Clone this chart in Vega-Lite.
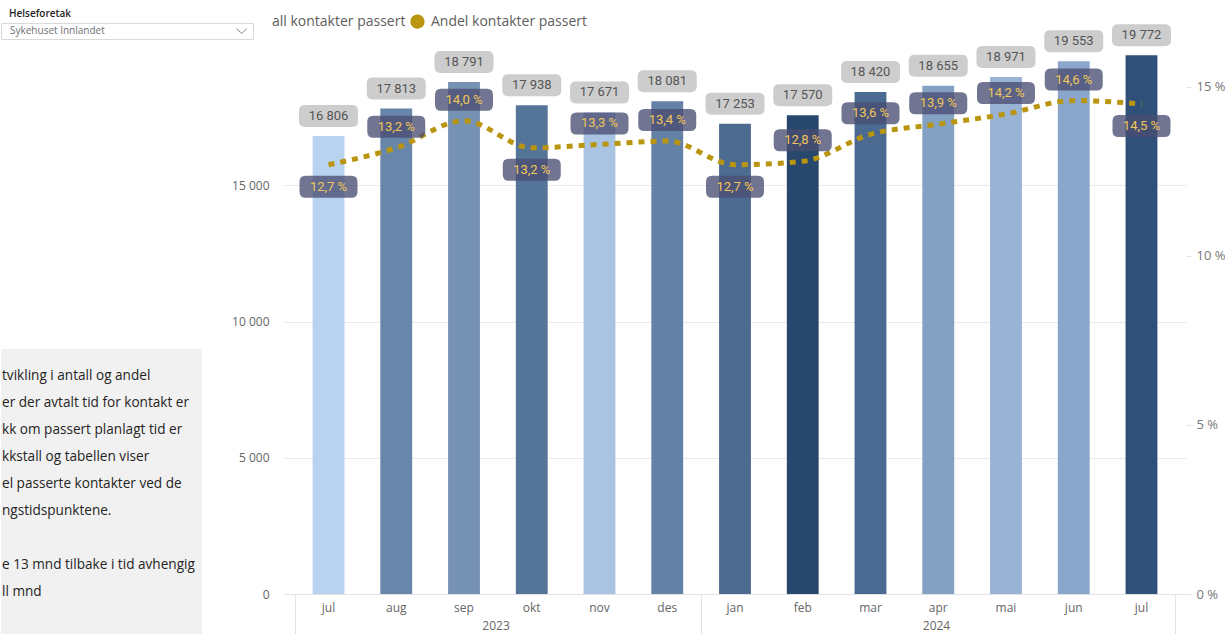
{
  "$schema": "https://vega.github.io/schema/vega-lite/v6.json",
  "background": "white",
  "padding": {"left": 0, "top": 8, "right": 0, "bottom": 0},
  "bounds": "flush",
  "align": "each",
  "columns": 2,
  "spacing": {"row": 10, "column": 31},
  "resolve": {"legend": {"color": "independent"}},
  "config": {
    "view": {"stroke": null},
    "font": "Open Sans",
    "locale": {"number": {"decimal": ",", "thousands": " ", "grouping": [3], "currency": ["", " kr"], "percent": " %"}}
  },
  "concat": [
    {
      "width": 252,
      "height": 16,
      "title": {"text": "Helseforetak", "anchor": "start", "fontSize": 10, "fontWeight": 600, "color": "#252423", "offset": 4, "dx": 8, "font": "Open Sans"},
      "view": {"stroke": "#D9D9D9", "fill": "white"},
      "layer": [
        {
          "data": {"values": [{"t": "Sykehuset Innlandet"}]},
          "mark": {"type": "text", "align": "left", "baseline": "middle", "dx": 9, "font": "Open Sans", "fontSize": 10, "color": "#707070"},
          "encoding": {
            "x": {"datum": 0, "type": "quantitative", "scale": {"domain": [0, 1]}, "axis": null},
            "text": {"field": "t"}
          }
        },
        {
          "data": {"values": [{"t": "chevron"}]},
          "mark": {"type": "point", "shape": "M-1,-0.45L0,0.45L1,-0.45", "size": 110, "filled": false, "stroke": "#888888", "strokeWidth": 1, "opacity": 1},
          "encoding": {
            "x": {"datum": 0.955, "type": "quantitative", "axis": null}
          }
        }
      ]
    },
    {
      "width": 1,
      "height": 1,
      "data": {"values": [{"t": ""}]},
      "mark": {"type": "text"},
      "encoding": {"text": {"field": "t"}}
    },
    {
      "width": 201,
      "height": 586,
      "layer": [
        {
          "data": {"values": [{"box": "tekstboks"}]},
          "mark": {"type": "rect", "color": "#F1F1F1"},
          "encoding": {
            "x": {"datum": 0, "type": "quantitative", "scale": {"domain": [0, 1]}, "axis": null},
            "x2": {"datum": 1},
            "y": {"datum": -1, "type": "quantitative", "scale": {"domain": [-12.111, 9.593], "reverse": true, "nice": false, "zero": false}, "axis": null},
            "y2": {"datum": 9.593}
          }
        },
        {
          "data": {"values": [
            {"i": 0, "t": "tvikling i antall og andel"},
            {"i": 1, "t": "er der avtalt tid for kontakt er"},
            {"i": 2, "t": "kk om passert planlagt tid er"},
            {"i": 3, "t": "kkstall og tabellen viser"},
            {"i": 4, "t": "el passerte kontakter ved de"},
            {"i": 5, "t": "ngstidspunktene."},
            {"i": 7, "t": "e 13 mnd tilbake i tid avhengig"},
            {"i": 8, "t": "ll mnd"}
          ]},
          "mark": {"type": "text", "align": "left", "baseline": "middle", "dx": 1, "font": "Open Sans", "fontSize": 13.6, "color": "#252423"},
          "encoding": {
            "x": {"datum": 0, "type": "quantitative", "axis": null},
            "y": {"field": "i", "type": "quantitative", "axis": null},
            "text": {"field": "t"}
          }
        }
      ]
    },
    {
      "width": 902,
      "height": 545,
      "data": {"values": [
        {"key": "2023-07", "antall": 16806, "andel": 0.127},
        {"key": "2023-08", "antall": 17813, "andel": 0.132},
        {"key": "2023-09", "antall": 18791, "andel": 0.140},
        {"key": "2023-10", "antall": 17938, "andel": 0.132},
        {"key": "2023-11", "antall": 17671, "andel": 0.133},
        {"key": "2023-12", "antall": 18081, "andel": 0.134},
        {"key": "2024-01", "antall": 17253, "andel": 0.127},
        {"key": "2024-02", "antall": 17570, "andel": 0.128},
        {"key": "2024-03", "antall": 18420, "andel": 0.136},
        {"key": "2024-04", "antall": 18655, "andel": 0.139},
        {"key": "2024-05", "antall": 18971, "andel": 0.142},
        {"key": "2024-06", "antall": 19553, "andel": 0.146},
        {"key": "2024-07", "antall": 19772, "andel": 0.145}
      ]},
      "resolve": {"scale": {"y": "independent"}, "axis": {"x": "independent", "y": "independent"}},
      "layer": [
        {
          "mark": {"type": "bar"},
          "encoding": {
            "x": {"field": "key", "type": "ordinal", "scale": {"paddingInner": 0.53, "paddingOuter": 0.422},
              "axis": {"orient": "bottom", "title": null, "labelExpr": "['jan','feb','mar','apr','mai','jun','jul','aug','sep','okt','nov','des'][toNumber(slice(datum.value,5))-1]", "labelAngle": 0, "ticks": false, "tickSize": 0, "domain": true, "domainColor": "#E3E3E3", "labelPadding": 8, "labelColor": "#666666", "labelFontSize": 12, "grid": false}},
            "y": {"field": "antall", "type": "quantitative", "scale": {"domain": [0, 20000], "nice": false},
              "axis": {"orient": "left", "title": null, "values": [0, 5000, 10000, 15000], "format": ",d", "grid": true, "gridColor": "#E9E9E9", "domain": false, "ticks": false, "tickSize": 0, "labelPadding": 15, "labelColor": "#666666", "labelFontSize": 12}},
            "fill": {"field": "key", "type": "nominal", "legend": null,
              "scale": {"range": ["#B8D3F0", "#6886AA", "#7591B4", "#547498", "#A9C3E3", "#6481A6", "#4D6B91", "#27476D", "#4A6A91", "#83A1C3", "#98B3D4", "#8AA6CA", "#2F5078"]}}
          }
        },
        {
          "mark": {"type": "point", "shape": "M-0.797,-0.373L0.797,-0.373Q1,-0.373 1,-0.17L1,0.17Q1,0.373 0.797,0.373L-0.797,0.373Q-1,0.373 -1,0.17L-1,-0.17Q-1,-0.373 -0.797,-0.373Z", "size": 3481, "filled": true, "fill": "#C4C4C4", "opacity": 0.85, "strokeWidth": 0, "yOffset": -20},
          "encoding": {
            "x": {"field": "key", "type": "ordinal", "axis": null},
            "y": {"field": "antall", "type": "quantitative", "scale": {"domain": [0, 20000], "nice": false}, "axis": null}
          }
        },
        {
          "mark": {"type": "text", "dy": -20, "align": "center", "baseline": "middle", "font": "Roboto", "fontSize": 13, "color": "#555555"},
          "encoding": {
            "x": {"field": "key", "type": "ordinal", "axis": null},
            "y": {"field": "antall", "type": "quantitative", "scale": {"domain": [0, 20000], "nice": false}, "axis": null},
            "text": {"field": "antall", "type": "quantitative", "format": ",d"}
          }
        },
        {
          "mark": {"type": "line", "interpolate": "monotone", "strokeWidth": 5, "strokeDash": [6, 6], "strokeCap": "butt"},
          "encoding": {
            "x": {"field": "key", "type": "ordinal",
              "axis": {"orient": "bottom", "title": null, "values": ["2023-07", "2024-01"], "bandPosition": 0, "tickOffset": -18, "ticks": true, "tickSize": 41, "tickColor": "#E3E3E3", "domain": false, "grid": false, "labelExpr": "slice(datum.value,0,4)", "labelOffset": {"condition": {"test": "datum.value === '2023-07'", "value": 185}, "value": 219}, "labelPadding": -15, "labelColor": "#666666", "labelFontSize": 12, "labelAngle": 0, "labelOverlap": false, "labelBound": false}},
            "y": {"field": "andel", "type": "quantitative", "scale": {"domain": [0, 0.16124], "nice": false},
              "axis": {"orient": "right", "title": null, "values": [0, 0.05, 0.1, 0.15], "format": ".0%", "grid": false, "domain": false, "ticks": true, "tickSize": 5, "tickColor": "#E6E6E6", "labelPadding": 5, "labelColor": "#777777", "labelFontSize": 13}},
            "color": {"datum": "Andel kontakter passert",
              "scale": {"domain": ["all kontakter passert", "Andel kontakter passert"], "range": ["rgba(0,0,0,0)", "#B99510"]},
              "legend": {"orient": "none", "legendX": -33, "legendY": -35, "direction": "horizontal", "title": null, "symbolType": "circle", "symbolSize": 44, "symbolStrokeWidth": 7.5, "symbolDash": [1, 0], "labelFontSize": 14, "labelColor": "#605E5C", "labelFont": "Open Sans", "labelOffset": 6, "columnPadding": -7, "padding": 0}}
          }
        },
        {
          "transform": [{"filter": {"not": {"field": "key", "oneOf": ["2023-07", "2023-10", "2024-01", "2024-07"]}}}],
          "mark": {"type": "point", "shape": "M-0.793,-0.379L0.793,-0.379Q1,-0.379 1,-0.172L1,0.172Q1,0.379 0.793,0.379L-0.793,0.379Q-1,0.379 -1,0.172L-1,-0.172Q-1,-0.379 -0.793,-0.379Z", "size": 3364, "filled": true, "fill": "#4A4E72", "opacity": 0.78, "strokeWidth": 0, "yOffset": -21},
          "encoding": {
            "x": {"field": "key", "type": "ordinal",
              "axis": {"orient": "bottom", "title": null, "values": ["2024-07"], "bandPosition": 1, "tickOffset": 18, "ticks": true, "tickSize": 41, "tickColor": "#E3E3E3", "labels": false, "domain": false, "grid": false}},
            "y": {"field": "andel", "type": "quantitative", "scale": {"domain": [0, 0.16124], "nice": false}, "axis": null}
          }
        },
        {
          "transform": [{"filter": {"not": {"field": "key", "oneOf": ["2023-07", "2023-10", "2024-01", "2024-07"]}}}],
          "mark": {"type": "text", "dy": -21, "align": "center", "baseline": "middle", "font": "Roboto", "fontSize": 13, "color": "#F2C65A"},
          "encoding": {
            "x": {"field": "key", "type": "ordinal", "axis": null},
            "y": {"field": "andel", "type": "quantitative", "scale": {"domain": [0, 0.16124], "nice": false}, "axis": null},
            "text": {"field": "andel", "type": "quantitative", "format": ".1%"}
          }
        },
        {
          "transform": [{"filter": {"field": "key", "oneOf": ["2023-07", "2023-10", "2024-01", "2024-07"]}}],
          "mark": {"type": "point", "shape": "M-0.793,-0.379L0.793,-0.379Q1,-0.379 1,-0.172L1,0.172Q1,0.379 0.793,0.379L-0.793,0.379Q-1,0.379 -1,0.172L-1,-0.172Q-1,-0.379 -0.793,-0.379Z", "size": 3364, "filled": true, "fill": "#4A4E72", "opacity": 0.78, "strokeWidth": 0, "yOffset": 22},
          "encoding": {
            "x": {"field": "key", "type": "ordinal", "axis": null},
            "y": {"field": "andel", "type": "quantitative", "scale": {"domain": [0, 0.16124], "nice": false}, "axis": null}
          }
        },
        {
          "transform": [{"filter": {"field": "key", "oneOf": ["2023-07", "2023-10", "2024-01", "2024-07"]}}],
          "mark": {"type": "text", "dy": 22, "align": "center", "baseline": "middle", "font": "Roboto", "fontSize": 13, "color": "#F2C65A"},
          "encoding": {
            "x": {"field": "key", "type": "ordinal", "axis": null},
            "y": {"field": "andel", "type": "quantitative", "scale": {"domain": [0, 0.16124], "nice": false}, "axis": null},
            "text": {"field": "andel", "type": "quantitative", "format": ".1%"}
          }
        }
      ]
    }
  ]
}
